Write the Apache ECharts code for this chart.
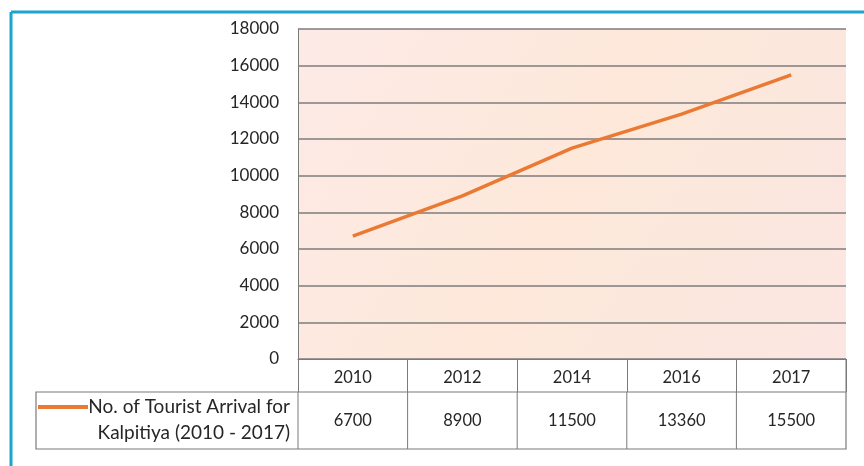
<!DOCTYPE html>
<html>
<head>
<meta charset="utf-8">
<script src="https://cdn.jsdelivr.net/npm/echarts@6/dist/echarts.min.js"></script>
<style>
  html, body { margin: 0; padding: 0; background: #ffffff; }
  #chart { width: 864px; height: 466px; }
</style>
</head>
<body>
<div id="chart"></div>
<script>
// Tourist arrivals to Kalpitiya, shown as a line with an Excel-style data table
const years = ['2010', '2012', '2014', '2016', '2017'];
const arrivals = [6700, 8900, 11500, 13360, 15500];
const yTicks = [0, 2000, 4000, 6000, 8000, 10000, 12000, 14000, 16000, 18000];
const seriesName = ['No. of Tourist Arrival for', 'Kalpitiya (2010 - 2017)'];

const FONT = 'Lato';
const TEXT = '#262626';
const LINE_COLOR = '#ea7a33';
const BORDER = '#7a7a7a';

const chart = echarts.init(document.getElementById('chart'), null, { renderer: 'canvas' });

const option = {
  animation: false,
  backgroundColor: '#ffffff',
  grid: {
    left: 298, right: 18, top: 29, bottom: 107,
    show: true,
    borderWidth: 0,
    backgroundColor: {
      type: 'linear', x: 0, y: 0, x2: 1, y2: 1,
      colorStops: [
        { offset: 0, color: '#fdeae6' },
        { offset: 0.5, color: '#fde8da' },
        { offset: 1, color: '#fbe6e2' }
      ]
    }
  },
  xAxis: {
    type: 'category',
    data: years,
    boundaryGap: true,
    axisLine: { show: true, lineStyle: { color: BORDER, width: 1.2 } },
    axisTick: { show: true, length: 33, lineStyle: { color: BORDER, width: 1 } },
    axisLabel: { margin: 10, fontFamily: FONT, fontSize: 16.5, color: TEXT },
    splitLine: { show: false }
  },
  yAxis: {
    type: 'value',
    min: yTicks[0],
    max: yTicks[yTicks.length - 1],
    interval: yTicks[1] - yTicks[0],
    axisLine: { show: true, lineStyle: { color: BORDER, width: 1 } },
    axisTick: { show: false },
    axisLabel: { margin: 19, fontFamily: FONT, fontSize: 17, color: TEXT,
                 formatter: v => String(v) },
    splitLine: { show: true, lineStyle: { color: '#7c7c7c', width: 1.5 } }
  },
  series: [{
    name: seriesName.join(' '),
    type: 'line',
    data: arrivals,
    showSymbol: false,
    symbol: 'none',
    lineStyle: { color: LINE_COLOR, width: 3.5 },
    z: 5
  }]
};
chart.setOption(option);

// Data table under the axis, laid out on the category bands
function buildTable() {
  const c0 = chart.convertToPixel({ xAxisIndex: 0 }, 0);
  const c1 = chart.convertToPixel({ xAxisIndex: 0 }, 1);
  const band = c1 - c0;
  const left = c0 - band / 2;
  const right = left + band * years.length;
  const axisY = chart.convertToPixel({ yAxisIndex: 0 }, 0);
  const rowTop = axisY + 33;
  const rowBottom = rowTop + 57;
  const legendLeft = 36;
  const els = [];
  const ls = { stroke: BORDER, lineWidth: 1 };

  // outer border of the value row, including the legend cell
  els.push({ type: 'rect', shape: { x: legendLeft, y: rowTop, width: right - legendLeft, height: rowBottom - rowTop },
             style: { fill: '#ffffff', stroke: BORDER, lineWidth: 1.2 }, z: 1 });
  // right edge of the header row
  els.push({ type: 'line', shape: { x1: right, y1: axisY, x2: right, y2: rowTop }, style: ls, z: 2 });
  // column separators and values
  for (let i = 0; i < years.length; i++) {
    const x = left + band * i;
    els.push({ type: 'line', shape: { x1: x, y1: rowTop, x2: x, y2: rowBottom }, style: ls, z: 2 });
    els.push({ type: 'text', x: x + band / 2, y: (rowTop + rowBottom) / 2,
               style: { text: String(arrivals[i]), fontFamily: FONT, fontSize: 16.5, fill: TEXT,
                        align: 'center', verticalAlign: 'middle' }, z: 3 });
  }
  // legend key and series name
  const keyY = rowTop + 15;
  els.push({ type: 'line', shape: { x1: legendLeft + 2, y1: keyY, x2: legendLeft + 52, y2: keyY },
             style: { stroke: LINE_COLOR, lineWidth: 4 }, z: 3 });
  els.push({ type: 'text', x: left - 8, y: keyY,
             style: { text: seriesName[0], fontFamily: FONT, fontSize: 19, fill: TEXT,
                      align: 'right', verticalAlign: 'middle' }, z: 4 });
  els.push({ type: 'text', x: left - 8, y: keyY + 26,
             style: { text: seriesName[1], fontFamily: FONT, fontSize: 19, fill: TEXT,
                      align: 'right', verticalAlign: 'middle' }, z: 4 });
  // frame around the whole figure
  els.push({ type: 'line', shape: { x1: 11, y1: 12, x2: 11, y2: 466 }, style: { stroke: '#1aa6cc', lineWidth: 3 }, z: 10 });
  els.push({ type: 'line', shape: { x1: 11, y1: 12, x2: 864, y2: 12 }, style: { stroke: '#1aa6cc', lineWidth: 3 }, z: 10 });

  chart.setOption({ graphic: { elements: els } });
}
buildTable();
</script>
</body>
</html>
